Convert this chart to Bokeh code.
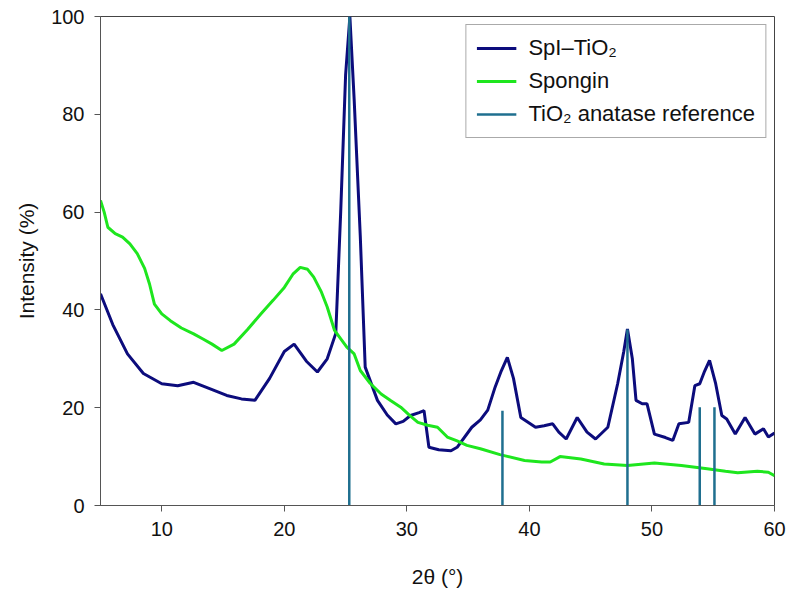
from bokeh.plotting import figure
from bokeh.models import FixedTicker, Range1d, Legend, LegendItem
from bokeh.embed import file_html
from bokeh.resources import INLINE

# SpI–TiO2 pattern
spi_x = [5.0, 6.0, 7.2, 8.5, 10.0, 11.3, 12.6, 13.8, 15.3, 16.5, 17.6, 18.8, 20.0, 20.8, 21.8, 22.7, 23.5, 24.2,
         24.6, 25.0, 25.35, 25.7, 26.2, 26.6, 27.6, 28.4, 29.1, 29.7, 30.3, 31.0, 31.4, 31.8, 32.6, 33.6, 34.1, 35.3,
         36.0, 36.6, 37.2, 37.7, 38.2, 38.7, 39.3, 40.5, 41.2, 41.9, 42.4, 43.0, 43.9, 44.7, 45.4, 46.4, 47.2, 47.7,
         48.0, 48.4, 48.7, 49.2, 49.6, 50.2, 51.1, 51.7, 52.2, 53.0, 53.5, 53.9, 54.3, 54.7, 55.2, 55.7, 56.1, 56.8,
         57.6, 58.4, 59.1, 59.5, 60.0]
spi_y = [43.3, 37.0, 31.0, 27.0, 24.9, 24.5, 25.2, 24.0, 22.5, 21.8, 21.5, 26.0, 31.5, 33.0, 29.5, 27.3, 30.0, 35.2,
         60.0, 88.0, 100.0, 83.0, 55.0, 28.3, 21.5, 18.5, 16.7, 17.2, 18.4, 19.0, 19.4, 11.9, 11.4, 11.2, 11.9, 16.0,
         17.5, 19.5, 24.2, 27.5, 30.3, 26.0, 18.0, 16.0, 16.3, 16.7, 15.0, 13.6, 18.0, 15.0, 13.6, 16.0, 24.9, 31.5,
         36.1, 30.0, 21.5, 20.8, 20.8, 14.6, 13.9, 13.3, 16.7, 17.0, 24.5, 24.9, 27.5, 29.7, 24.9, 18.4, 17.7, 14.6,
         18.0, 14.6, 15.7, 14.0, 14.8]

# Spongin pattern
spo_x = [5.0, 5.3, 5.6, 6.2, 6.8, 7.4, 8.0, 8.6, 9.0, 9.4, 10.0, 10.7, 11.6, 12.6, 13.4, 14.1, 14.9, 15.9, 17.0,
         18.1, 19.1, 20.0, 20.7, 21.3, 21.9, 22.4, 23.0, 23.5, 24.1, 25.1, 25.7, 26.2, 27.0, 27.9, 28.7, 29.5, 30.2,
         30.9, 31.7, 32.5, 33.3, 34.1, 34.9, 36.0, 37.6, 39.6, 41.0, 41.7, 42.5, 44.2, 46.1, 48.0, 50.2, 52.4, 54.5,
         56.0, 57.0, 58.6, 59.5, 60.0]
spo_y = [62.4, 60.0, 56.9, 55.6, 54.9, 53.5, 51.5, 48.5, 45.3, 41.2, 39.2, 37.8, 36.3, 35.1, 34.0, 33.0, 31.7, 33.0,
         36.0, 39.2, 42.0, 44.6, 47.3, 48.7, 48.3, 46.7, 43.8, 40.6, 35.8, 32.4, 31.0, 27.6, 25.0, 22.8, 21.4, 20.1,
         18.5, 17.0, 16.4, 16.0, 14.0, 13.2, 12.3, 11.6, 10.4, 9.2, 8.9, 8.9, 10.0, 9.5, 8.5, 8.2, 8.7, 8.2, 7.5,
         7.0, 6.7, 7.0, 6.8, 6.1]

# TiO2 anatase reference lines
ref_x = [25.3, 37.8, 48.0, 53.9, 55.1]
ref_y = [100.0, 19.4, 36.0, 20.1, 20.1]

x_ticks = [10, 20, 30, 40, 50, 60]
y_ticks = [0, 20, 40, 60, 80, 100]

FONT = "Liberation Sans"

p = figure(width=790, height=590, output_backend="svg", toolbar_location=None,
           x_range=Range1d(5, 60), y_range=Range1d(0, 100),
           min_border_left=100, min_border_right=16, min_border_top=16, min_border_bottom=85)
p.background_fill_color = "white"
p.border_fill_color = "white"
p.outline_line_color = "#444444"
p.outline_line_width = 1
p.xgrid.visible = False
p.ygrid.visible = False

r1 = p.line(spi_x, spi_y, line_color="#0c0c7c", line_width=3)
r2 = p.line(spo_x, spo_y, line_color="#1ee61e", line_width=3)
r3 = p.segment(x0=ref_x, y0=[0] * len(ref_x), x1=ref_x, y1=ref_y, line_color="#1f6f8f", line_width=2.5)

for ax in (p.xaxis[0], p.yaxis[0]):
    ax.axis_line_color = "#555555"
    ax.major_tick_line_color = "#555555"
    ax.major_tick_out = 6
    ax.major_tick_in = 0
    ax.minor_tick_line_color = None
    ax.major_label_text_font = FONT
    ax.major_label_text_font_size = "20px"
    ax.major_label_text_color = "#111111"
    ax.axis_label_text_font = FONT
    ax.axis_label_text_font_size = "21px"
    ax.axis_label_text_font_style = "normal"
    ax.axis_label_text_color = "#111111"

p.xaxis[0].ticker = FixedTicker(ticks=x_ticks)
p.yaxis[0].ticker = FixedTicker(ticks=y_ticks)
p.xaxis[0].axis_label = "2θ (°)"
p.yaxis[0].axis_label = "Intensity (%)"
p.xaxis[0].major_label_standoff = 10
p.xaxis[0].axis_label_standoff = 26
p.yaxis[0].major_label_standoff = 10
p.yaxis[0].axis_label_standoff = 10

legend = Legend(items=[
    LegendItem(label="SpI–TiO₂", renderers=[r1]),
    LegendItem(label="Spongin", renderers=[r2]),
    LegendItem(label="TiO₂ anatase reference", renderers=[r3]),
], location="top_right")
legend.label_text_font = FONT
legend.label_text_font_size = "22px"
legend.label_text_color = "#111111"
legend.border_line_color = "#555555"
legend.border_line_width = 1
legend.background_fill_alpha = 1
legend.glyph_width = 40
legend.glyph_height = 22
legend.label_height = 22
legend.label_standoff = 12
legend.spacing = 7
legend.padding = 10
legend.margin = 8
p.add_layout(legend)

open("out.html", "w").write(file_html(p, INLINE))
